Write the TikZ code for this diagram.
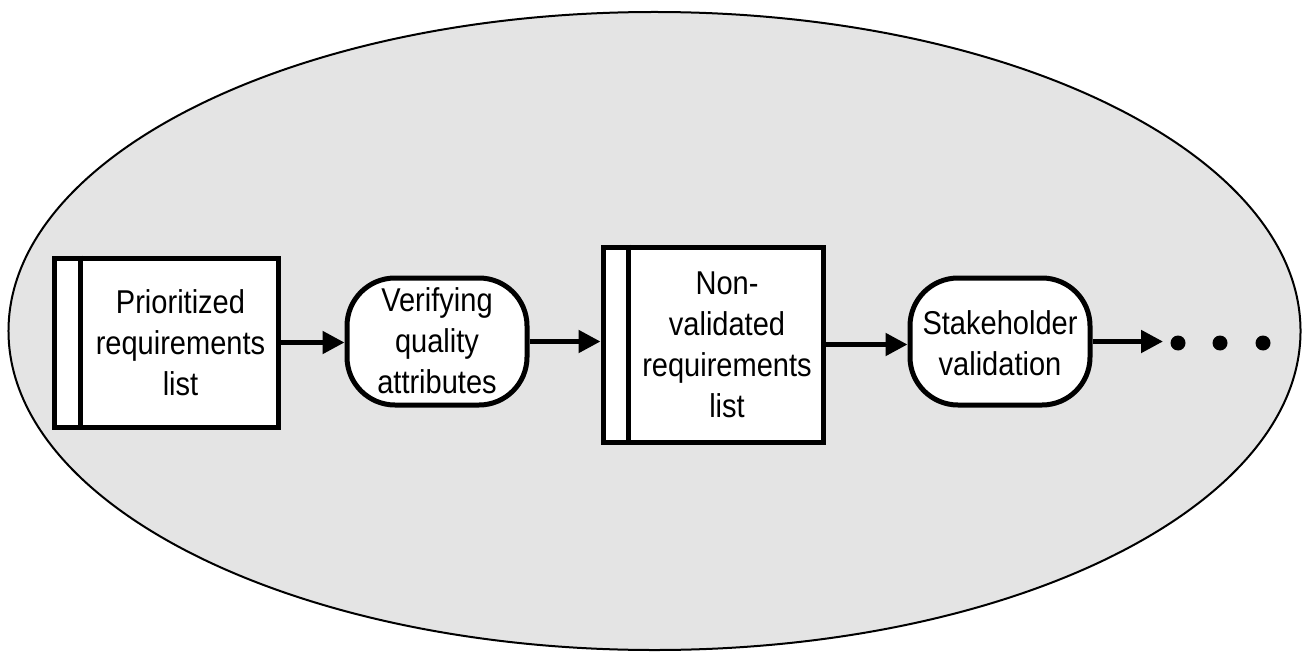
\documentclass[tikz,border=0pt]{standalone}
\usepackage{fontspec}
\setmainfont{Liberation Sans}
\newfontfamily\narrowsans[FakeStretch=0.88]{Liberation Sans}
\usetikzlibrary{arrows.meta}
\definecolor{scopegray}{HTML}{E4E4E4}
\begin{document}
\begin{tikzpicture}[x=1bp,y=-1bp,
  docbox/.style={draw,line width=5bp,fill=white,inner sep=0pt},
  procbox/.style={draw,line width=5bp,fill=white,inner sep=0pt,rounded corners=48bp},
  label/.style={align=center,inner sep=0pt,font=\narrowsans\fontsize{33bp}{41bp}\selectfont},
  flow/.style={line width=5bp,-{Triangle[length=22bp,width=22bp]}},
  dot/.style={circle,fill=black,inner sep=0pt,minimum size=15bp}]
\useasboundingbox (0,0) rectangle (1304,652);
% enclosing scope
\fill[scopegray,draw=black,line width=2bp] (654.5,331) ellipse [x radius=646bp, y radius=319bp];
% document-like boxes with a side bar
\node[docbox,minimum width=223bp,minimum height=169bp] (p1) at (166.5,342.5) {};
\draw[line width=5bp] ([xshift=28bp]p1.north west) -- ([xshift=28bp]p1.south west);
\node[label] (t1) at ([xshift=14bp]p1.center) {Prioritized\\requirements\\list};
\node[docbox,minimum width=220bp,minimum height=195bp] (p2) at (713,344.5) {};
\draw[line width=5bp] ([xshift=28bp]p2.north west) -- ([xshift=28bp]p2.south west);
\node[label] (t2) at ([xshift=14bp]p2.center) {Non-\\validated\\requirements\\list};
% process steps
\node[procbox,minimum width=180bp,minimum height=127bp] (v1) at (437,341.5) {};
\node[label] (tv1) at (437,341) {Verifying\\quality\\attributes};
\node[procbox,minimum width=180bp,minimum height=127bp] (s1) at (1000,341.5) {};
\node[label] (ts1) at (1000,343) {Stakeholder\\validation};
% continuation
\coordinate (e1) at (1163,343);
\node[dot] (d1) at (1178,343) {};
\node[dot] (d2) at (1220,343) {};
\node[dot] (d3) at (1263,343) {};
% flow connectors
\draw[flow] (p1.east) -- (p1.east -| v1.west);
\draw[flow] (v1.east) -- (v1.east -| p2.west);
\draw[flow] (p2.east) -- (p2.east -| s1.west);
\draw[flow] (s1.east) -- (s1.east -| e1);
\end{tikzpicture}
\end{document}
